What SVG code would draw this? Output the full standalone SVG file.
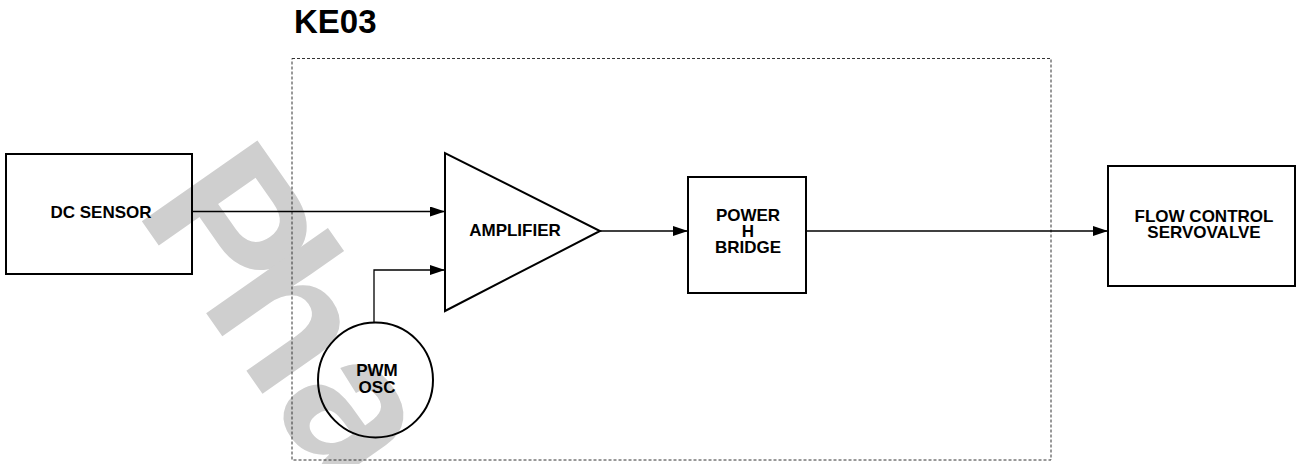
<svg xmlns="http://www.w3.org/2000/svg" width="1300" height="464" viewBox="0 0 1300 464">
  <style>
    .lbl { font-family: "Liberation Sans", Arial, Helvetica, sans-serif; font-weight: bold; font-size: 17px; fill: #000; text-anchor: middle; }
    .title { font-family: "Liberation Sans", Arial, Helvetica, sans-serif; font-weight: bold; font-size: 33px; fill: #000; }
    .wm { font-family: "Liberation Sans", Arial, Helvetica, sans-serif; font-weight: bold; font-size: 205px; fill: #cfcfcf; }
    .shape { fill: none; stroke: #000; stroke-width: 2; }
    .conn { fill: none; stroke: #000; stroke-width: 1.3; }
    .frame { fill: none; stroke: #333; stroke-width: 1; stroke-dasharray: 3 2; }
  </style>
  <defs>
    <marker id="arrow" markerUnits="userSpaceOnUse" markerWidth="15" markerHeight="10" refX="15" refY="5" orient="auto">
      <path d="M0,0 L15,5 L0,10 z" fill="#000"/>
    </marker>
  </defs>
  <rect width="1300" height="464" fill="#fff"/>
  <text class="wm" transform="translate(134,210) rotate(55)">P<tspan dx="-25">ha</tspan></text>

  <text class="title" x="294" y="33">KE03</text>
  <rect id="ke03-frame" class="frame" x="292" y="58.5" width="759" height="401.5"/>

  <g id="dc-sensor">
    <rect class="shape" x="6" y="154" width="186" height="120"/>
    <text class="lbl" x="101" y="218">DC SENSOR</text>
  </g>
  <g id="amplifier">
    <polygon class="shape" points="445,153 445,311 600,231"/>
    <text class="lbl" x="515" y="236">AMPLIFIER</text>
  </g>
  <g id="pwm-osc">
    <circle class="shape" cx="375.5" cy="380" r="57.5"/>
    <text class="lbl" x="377" y="376">PWM</text>
    <text class="lbl" x="377" y="392.5">OSC</text>
  </g>
  <g id="power-h-bridge">
    <rect class="shape" x="688" y="177" width="118" height="116"/>
    <text class="lbl" x="748" y="221">POWER</text>
    <text class="lbl" x="748" y="237">H</text>
    <text class="lbl" x="748" y="253">BRIDGE</text>
  </g>
  <g id="flow-control-servovalve">
    <rect class="shape" x="1108" y="166" width="187" height="120"/>
    <text class="lbl" x="1204" y="221.5">FLOW CONTROL</text>
    <text class="lbl" x="1204" y="238">SERVOVALVE</text>
  </g>

  <g id="connectors">
    <line class="conn" x1="192" y1="211.5" x2="445" y2="211.5" marker-end="url(#arrow)"/>
    <polyline class="conn" points="374,323 374,270 445,270" marker-end="url(#arrow)"/>
    <line class="conn" x1="600" y1="231" x2="688" y2="231" marker-end="url(#arrow)"/>
    <line class="conn" x1="806" y1="231" x2="1108" y2="231" marker-end="url(#arrow)"/>
  </g>
</svg>
